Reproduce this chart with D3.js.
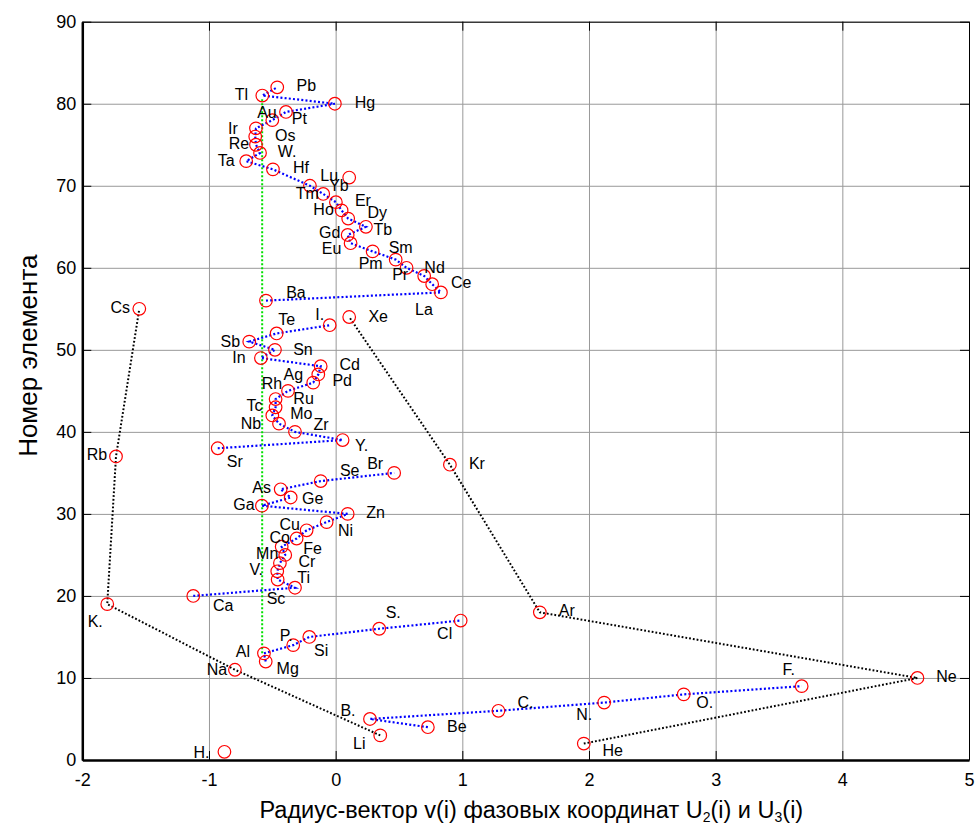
<!DOCTYPE html>
<html>
<head>
<meta charset="utf-8">
<script src="https://cdn.jsdelivr.net/npm/d3@7"></script>
<style>
  body { margin: 0; background: #fff; }
  svg { font-family: "Liberation Sans", Arial, sans-serif; }
  .lbl { font-size: 16px; fill: #000; }
  .tick text { font-size: 18px; fill: #000; }
</style>
</head>
<body>
<div class="chart"></div>
<script>
// element symbols in order of atomic number (1..82)
var symbols = ["H","He","Li","Be","B","C","N","O","F","Ne",
  "Na","Mg","Al","Si","P","S","Cl","Ar",
  "K","Ca","Sc","Ti","V","Cr","Mn","Fe","Co","Ni","Cu","Zn","Ga","Ge","As","Se","Br","Kr",
  "Rb","Sr","Y","Zr","Nb","Mo","Tc","Ru","Rh","Pd","Ag","Cd","In","Sn","Sb","Te","I","Xe",
  "Cs","Ba","La","Ce","Pr","Nd","Pm","Sm","Eu","Gd","Tb","Dy","Ho","Er","Tm","Yb","Lu",
  "Hf","Ta","W","Re","Os","Ir","Pt","Au","Hg","Tl","Pb"]

// radius-vector v(i)
var radius = [-0.878, 1.959, 0.352, 0.728, 0.271, 1.285, 2.120, 2.748, 3.679, 4.593,
  -0.795, -0.552, -0.566, -0.335, -0.208, 0.344, 0.987, 1.612,
  -1.803, -1.124, -0.321, -0.458, -0.461, -0.440, -0.398, -0.426, -0.308, -0.229, -0.071, 0.095,
  -0.582, -0.355, -0.434, -0.118, 0.462, 0.902,
  -1.734, -0.931, 0.055, -0.321, -0.447, -0.500, -0.474, -0.474, -0.376, -0.177, -0.137, -0.118,
  -0.590, -0.479, -0.682, -0.466, -0.047, 0.107,
  -1.550, -0.550, 0.831, 0.762, 0.699, 0.560, 0.474, 0.292, 0.118, 0.095, 0.239, 0.099,
  0.047, 0.002, -0.098, -0.203, 0.107,
  -0.495, -0.706, -0.597, -0.629, -0.635, -0.629, -0.500, -0.392, -0.006, -0.579, -0.461]

// chains of atomic numbers joined by lines
var blueChains = [
  [4,5,6,7,8,9],
  [12,13,14,15,16,17],
  d3.range(20, 36),
  d3.range(38, 54),
  d3.range(56, 71).concat(d3.range(72, 83))
]
var blackChains = [
  [2,10,18,36,54],
  [3,11,19,37,55]
]
var greenLine = [[-0.58, 13], [-0.58, 80.6]]

var xTicks = [-2,-1,0,1,2,3,4,5]
var yTicks = [0,10,20,30,40,50,60,70,80,90]

// label placement in pixels relative to each circle (layout only)
var labelShift = {
  H:[-23,0], He:[29,7], Li:[-21,8], Be:[29,-1], B:[-22,-9], C:[27,-9], N:[-20,12], O:[21,8], F:[-13,-17], Ne:[29,-2],
  Na:[-18,-1], Mg:[22,7], Al:[-21,-2], Si:[28,5], P:[-23,-2], S:[14,-16], Cl:[-16,13], Ar:[27,-2],
  K:[-12,17], Ca:[30,9], Sc:[-19,11], Ti:[26,-2], V:[-21,-2], Cr:[27,-2], Mn:[-18,-2], Fe:[31,2],
  Co:[-17,-1], Ni:[39,0], Cu:[-37,2], Zn:[28,-2], Ga:[-18,-1], Ge:[22,1], As:[-19,-2], Se:[29,-11],
  Br:[-19,-10], Kr:[27,-1],
  Rb:[-19,-2], Sr:[17,13], Y:[19,5], Zr:[26,-8], Nb:[-28,0], Mo:[29,-2], Tc:[-21,-2], Ru:[28,-1],
  Rh:[-16,-8], Pd:[29,-2], Ag:[-25,0], Cd:[29,-2], In:[-22,-1], Sn:[28,-1], Sb:[-19,0], Te:[10,-14],
  I:[-10,-11], Xe:[29,-1],
  Cs:[-19,-2], Ba:[30,-8], La:[-17,17], Ce:[29,-2], Pr:[-24,-2], Nd:[28,-1], Pm:[-25,4], Sm:[28,-4],
  Eu:[-19,5], Gd:[-18,-3], Tb:[17,2], Dy:[29,-6], Ho:[-18,-1], Er:[27,-2], Tm:[-16,-1], Yb:[29,-1],
  Lu:[-20,-2], Hf:[28,-2], Ta:[-20,-1], W:[27,-2], Re:[-17,-1], Os:[30,-1], Ir:[-23,0], Pt:[27,-2],
  Au:[-19,0], Hg:[30,-1], Tl:[-21,-1], Pb:[29,-2]
}

var margin = {top: 21.7, right: 6, bottom: 68, left: 82.3},
    width = 975 - margin.left - margin.right,
    height = 828 - margin.top - margin.bottom

var svg = d3.select(".chart")
  .append("svg")
    .attr("width", 975)
    .attr("height", 828)
  .append("g")
    .attr("transform", "translate(" + margin.left + "," + margin.top + ")")

var x = d3.scaleLinear().domain([-2, 5]).range([0, width])
var y = d3.scaleLinear().domain([0, 90]).range([height, 0])

var points = symbols.map(function(s, i) {
  return {sym: s, z: i + 1, v: radius[i]}
})

// plain hyphen minus, like the original
var fmt = function(d) { return String(d) }

// grid
svg.append("g")
    .attr("transform", "translate(0," + height + ")")
    .call(d3.axisBottom(x).tickValues(xTicks).tickSize(-height).tickFormat(""))
    .call(function(g) { g.select(".domain").remove() })
    .selectAll("line").attr("stroke", "#999")
svg.append("g")
    .call(d3.axisLeft(y).tickValues(yTicks).tickSize(-width).tickFormat(""))
    .call(function(g) { g.select(".domain").remove() })
    .selectAll("line").attr("stroke", "#999")

// box with inward ticks
svg.append("g")
    .attr("transform", "translate(0," + height + ")")
    .call(d3.axisBottom(x).tickValues(xTicks).tickFormat(fmt).tickSizeInner(-9).tickSizeOuter(0).tickPadding(13))
    .call(function(g) { g.select(".domain").attr("stroke-width", 2.5) })
svg.append("g")
    .call(d3.axisLeft(y).tickValues(yTicks).tickFormat(fmt).tickSizeInner(-9).tickSizeOuter(0).tickPadding(6))
    .call(function(g) { g.select(".domain").attr("stroke-width", 2.5) })
svg.append("g")
    .call(d3.axisTop(x).tickValues(xTicks).tickSizeInner(-9).tickSizeOuter(0).tickFormat(""))
svg.append("g")
    .attr("transform", "translate(" + width + ",0)")
    .call(d3.axisRight(y).tickValues(yTicks).tickSizeInner(-9).tickSizeOuter(0).tickFormat(""))
svg.selectAll(".tick text").attr("font-family", null).attr("font-size", null)

var line = d3.line()
  .x(function(d) { return x(d.v) })
  .y(function(d) { return y(d.z) })

svg.append("path")
    .attr("d", d3.line().x(function(d) { return x(d[0]) }).y(function(d) { return y(d[1]) })(greenLine))
    .attr("fill", "none")
    .attr("stroke", "#00e000")
    .attr("stroke-width", 2)
    .attr("stroke-dasharray", "2,2")

svg.selectAll(".blue")
  .data(blueChains)
  .enter()
  .append("path")
    .attr("class", "blue")
    .attr("d", function(c) { return line(c.map(function(z) { return points[z - 1] })) })
    .attr("fill", "none")
    .attr("stroke", "#0000ff")
    .attr("stroke-width", 2.2)
    .attr("stroke-dasharray", "2,2.2")

svg.selectAll(".black")
  .data(blackChains)
  .enter()
  .append("path")
    .attr("class", "black")
    .attr("d", function(c) { return line(c.map(function(z) { return points[z - 1] })) })
    .attr("fill", "none")
    .attr("stroke", "#000")
    .attr("stroke-width", 2)
    .attr("stroke-dasharray", "1.8,2")

svg.selectAll("circle")
  .data(points)
  .enter()
  .append("circle")
    .attr("cx", function(d) { return x(d.v) })
    .attr("cy", function(d) { return y(d.z) })
    .attr("r", 6.3)
    .attr("fill", "none")
    .attr("stroke", "#ff0000")
    .attr("stroke-width", 1.2)

svg.selectAll(".lbl")
  .data(points)
  .enter()
  .append("text")
    .attr("class", "lbl")
    .attr("x", function(d) { return x(d.v) + labelShift[d.sym][0] })
    .attr("y", function(d) { return y(d.z) + labelShift[d.sym][1] })
    .attr("text-anchor", "middle")
    .attr("dy", "0.36em")
    .text(function(d) { return d.sym.length == 1 ? d.sym + "." : d.sym })

// axis titles
svg.append("text")
    .attr("transform", "translate(" + (-45) + "," + 334 + ")rotate(-90)")
    .attr("text-anchor", "middle")
    .style("font-size", "26px")
    .text("Номер элемента")

var xt = svg.append("text")
    .attr("x", 449)
    .attr("y", height + 58)
    .attr("text-anchor", "middle")
    .style("font-size", "23.5px")
xt.append("tspan").text("Радиус-вектор v(i) фазовых координат U")
xt.append("tspan").attr("dy", 4).style("font-size", "14px").text("2")
xt.append("tspan").attr("dy", -4).text("(i) и U")
xt.append("tspan").attr("dy", 4).style("font-size", "14px").text("3")
xt.append("tspan").attr("dy", -4).text("(i)")
</script>
</body>
</html>
